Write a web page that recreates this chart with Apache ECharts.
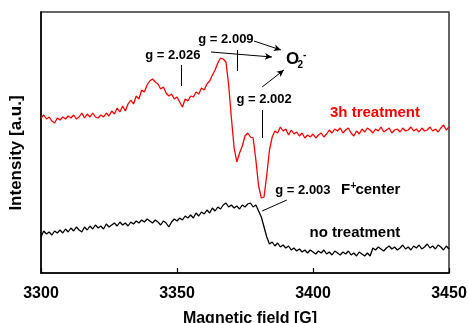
<!DOCTYPE html>
<html>
<head>
<meta charset="utf-8">
<script src="https://cdn.jsdelivr.net/npm/echarts@6/dist/echarts.min.js"></script>
<style>
  html, body { margin: 0; padding: 0; background: #fff; }
  #chart { width: 468px; height: 323px; }
</style>
</head>
<body>
<div id="chart"></div>
<script>
// spectra sampled every 1 G starting at 3300 G
const fieldStart = 3300;
const fieldStep = 1;
const xTicks = [3300, 3350, 3400, 3450];

const treated3h = [
  155, 158, 154, 156, 152, 150, 155, 153, 156, 154,
  157, 155, 158, 154, 156, 160, 155, 159, 156, 160,
  156, 155, 158, 156, 160, 157, 162, 159, 165, 161,
  167, 162, 169, 173, 169, 177, 174, 183, 181, 188,
  192, 194, 191, 189, 184, 186, 180, 177, 179, 174,
  176, 171, 166, 174, 172, 177, 176, 181, 179, 185,
  183, 189, 192, 198, 203, 210, 215, 214, 211, 188,
  155, 125, 111, 120, 127, 137, 140, 136, 135, 113,
  87, 75, 76, 98, 123, 136, 142, 140, 146, 142,
  144, 138, 143, 139, 141, 137, 140, 135, 138, 136,
  139, 135, 138, 140, 136, 139, 143, 140, 144, 142,
  145, 140, 143, 145, 140, 137, 142, 139, 144, 141,
  145, 143, 140, 144, 142, 146, 141, 143, 145, 140,
  143, 144, 141, 145, 142, 143, 146, 142, 144, 141,
  145, 142, 143, 146, 142, 144, 141, 145, 148, 143,
  146
];

const untreated = [
  36, 42, 39, 41, 38, 42, 40, 43, 40, 44,
  41, 45, 42, 46, 43, 41, 46, 43, 47, 44,
  48, 45, 47, 44, 49, 46, 48, 50, 47, 51,
  48, 50, 47, 51, 49, 52, 50, 53, 51, 54,
  52, 50, 53, 51, 48, 52, 50, 46, 51, 54,
  52, 55, 53, 57, 55, 58, 55, 60, 57, 61,
  59, 63, 60, 65, 62, 66, 64, 68, 70, 66,
  68, 65, 67, 64, 68, 66, 69, 70, 66, 68,
  62, 56, 46, 36, 29, 31, 27, 30, 26, 28,
  25, 27, 23, 25, 22, 24, 21, 23, 20, 23,
  21, 19, 22, 20, 23, 19, 21, 18, 22, 20,
  18, 21, 19, 22, 18, 20, 17, 21, 19, 17,
  20, 17, 25, 23, 26, 24, 22, 25, 27, 24,
  26, 23, 25, 28, 24, 26, 23, 27, 25, 28,
  24, 26, 29, 25, 27, 24, 28, 26, 23, 27,
  24
];

// annotation texts: [text, field, intensity, size, colour, align]
const notes = [
  ['g = 2.026', 3348.5, 218, 13, '#000', 'center'],
  ['g = 2.009', 3368, 234, 13, '#000', 'center'],
  ['g = 2.002', 3382, 174, 13, '#000', 'center'],
  ['g = 2.003', 3396.3, 83, 13, '#000', 'center'],
  ['3h treatment', 3422.8, 160, 15, '#ff0000', 'center'],
  ['no treatment', 3415.4, 40, 15, '#000', 'center'],
  ['O', 3390.1, 214, 17, '#000', 'left'],
  ['2', 3394.3, 208, 10, '#000', 'left'],
  ['-', 3396.3, 218, 10, '#000', 'left'],
  ['F', 3410.3, 83, 15, '#000', 'left'],
  ['+', 3413.8, 87, 10, '#000', 'left'],
  ['center', 3415.6, 83, 15, '#000', 'left']
];

// pointer lines: [x1, y1, x2, y2, arrow]
const pointers = [
  [3351.5, 208, 3351.5, 187, false],
  [3372, 223, 3372, 202, false],
  [3362.5, 221, 3384.9, 216, true],
  [3378.3, 232, 3388.2, 223, true],
  [3381.3, 186, 3389.3, 203, true],
  [3381.3, 163, 3381.3, 135, false],
  [3390.4, 73, 3381.3, 62, false]
];

const font = '"Liberation Sans", Arial, sans-serif';
const toPairs = (vals) => vals.map((v, i) => [fieldStart + i * fieldStep, v]);

const chart = echarts.init(document.getElementById('chart'));

chart.setOption({
  animation: false,
  grid: {
    left: 41, right: 19, top: 12, bottom: 50,
    outerBoundsMode: 'none',
    show: true, borderColor: '#333', borderWidth: 1.5
  },
  xAxis: {
    type: 'value',
    min: 3300, max: 3450, interval: 50,
    axisLine: { lineStyle: { color: '#000', width: 1.5 } },
    axisTick: { inside: true, length: 5, lineStyle: { color: '#000', width: 1.2 } },
    axisLabel: {
      color: '#000', fontFamily: font, fontWeight: 'bold', fontSize: 16, margin: 13,
      formatter: (v) => xTicks.includes(v) ? String(v) : ''
    },
    splitLine: { show: false },
    name: 'Magnetic field [G]',
    nameLocation: 'middle',
    nameGap: 38,
    nameTextStyle: { color: '#000', fontFamily: font, fontWeight: 'bold', fontSize: 16, padding: [0, 0, 0, 10] }
  },
  yAxis: {
    type: 'value',
    min: 0, max: 261,
    axisLine: { show: true, lineStyle: { color: '#000', width: 1.5 } },
    axisTick: { show: false },
    axisLabel: { show: false },
    splitLine: { show: false }
  },
  series: [
    {
      name: '3h treatment',
      type: 'line',
      data: toPairs(treated3h),
      showSymbol: false,
      lineStyle: { color: '#ff0000', width: 1.3 },
      markLine: {
        silent: true,
        symbol: ['none', 'none'],
        label: { show: false },
        lineStyle: { color: '#000', width: 1, type: 'solid' },
        data: pointers.map(([x1, y1, x2, y2, arrow]) => [
          { coord: [x1, y1], symbol: 'none' },
          { coord: [x2, y2], symbol: arrow ? 'arrow' : 'none', symbolSize: [5, 7] }
        ])
      }
    },
    {
      name: 'no treatment',
      type: 'line',
      data: toPairs(untreated),
      showSymbol: false,
      lineStyle: { color: '#000', width: 1.3 }
    }
  ]
});

const texts = notes.map(([t, gx, iy, size, color, align]) => {
  const [px, py] = chart.convertToPixel({ gridIndex: 0 }, [gx, iy]);
  return {
    type: 'text', x: px, y: py, silent: true,
    style: {
      text: t, fill: color, font: 'bold ' + size + 'px ' + font,
      textAlign: align, textVerticalAlign: 'middle'
    }
  };
});
texts.push({
  type: 'text', x: 16, y: 153, rotation: Math.PI / 2, silent: true,
  style: {
    text: 'Intensity [a.u.]', fill: '#000', font: 'bold 17px ' + font,
    textAlign: 'center', textVerticalAlign: 'middle'
  }
});
chart.setOption({ graphic: texts });

window.addEventListener('resize', () => chart.resize());
</script>
</body>
</html>
